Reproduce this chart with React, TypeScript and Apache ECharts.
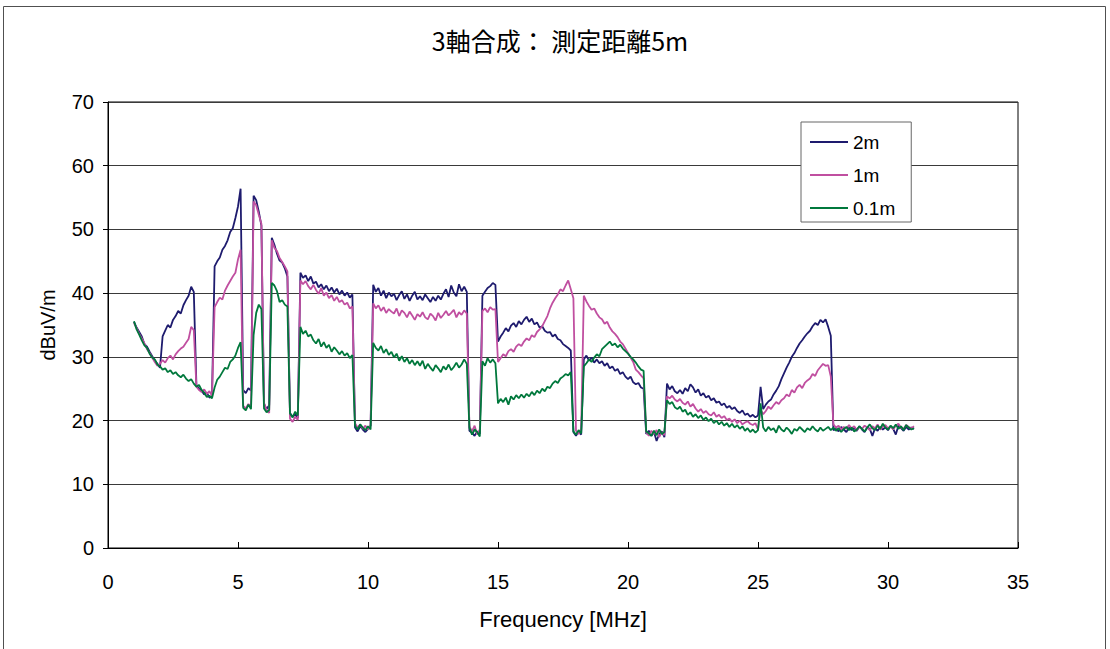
import React, { useEffect, useRef } from "react";
import * as echarts from "echarts";

const TITLE = "3軸合成： 測定距離5m";
const X_NAME = "Frequency [MHz]";
const Y_NAME = "dBuV/m";
const NAMES = ["2m", "1m", "0.1m"];
const COLORS = ["#1E1B6E", "#C04FA0", "#00783C"];

// sweep grid: 1.0 MHz start, 0.1 MHz step (301 points up to 31.0 MHz)
const F_START = 1.0;
const F_STEP = 0.1;

const s2m = [
  35.5, 34.6, 33.9, 33.2, 32.0, 31.6, 30.8, 30.1, 29.4, 28.9,
  28.3, 33.2, 34.1, 35.0, 34.6, 35.8, 36.4, 37.2, 36.8, 38.1,
  38.9, 39.6, 41.0, 40.2, 25.6, 25.0, 24.7, 24.1, 24.4, 23.6,
  23.8, 44.2, 45.0, 45.6, 46.8, 47.4, 48.3, 49.6, 50.2, 51.8,
  53.6, 56.4, 24.8, 24.3, 25.1, 24.7, 55.3, 54.6, 52.8, 50.6,
  22.6, 21.8, 22.4, 48.7, 47.6, 46.2, 45.1, 44.8, 43.9, 42.6,
  21.2, 20.6, 21.0, 20.4, 43.2, 42.4, 42.8, 41.9, 42.6, 41.5,
  41.8, 40.9, 41.4, 40.6, 41.2, 40.3, 40.9, 40.1, 40.7, 39.8,
  40.4, 39.6, 40.1, 39.3, 39.8, 18.9, 18.3, 19.1, 18.6, 18.2,
  18.7, 19.2, 41.3, 40.2, 40.8, 39.6, 40.4, 39.2, 40.1, 39.5,
  39.9, 38.9, 39.7, 40.3, 39.1, 39.8, 38.8, 39.6, 40.2, 39.0,
  39.5, 38.9, 39.8, 39.2, 38.6, 39.4, 38.8, 39.6, 39.0, 39.9,
  40.6, 39.4, 41.2, 40.1, 39.5, 41.4, 40.3, 41.0, 40.2, 18.4,
  18.1, 17.6, 18.3, 17.9, 39.6, 40.2, 40.8, 41.1, 41.6, 41.3,
  32.4, 33.2, 33.8, 34.5, 34.0, 34.9, 35.3, 34.7, 35.6, 35.1,
  35.8, 36.3, 35.5, 36.0, 35.1, 35.4, 34.6, 34.8, 34.1, 33.8,
  33.9, 33.2, 33.5, 32.8, 32.6, 32.0, 31.7, 31.4, 31.0, 18.2,
  17.6, 18.3, 17.8, 29.6, 30.2, 29.4, 29.9, 29.1, 29.6, 29.0,
  29.3, 28.6, 29.0, 28.2, 28.5, 27.8, 28.1, 27.3, 27.6, 26.9,
  26.5, 26.9, 26.0, 25.7, 25.9, 25.2, 25.0, 17.9, 18.4, 17.6,
  18.2, 16.8, 17.9, 18.3, 17.4, 25.8, 24.9, 25.4, 24.6, 24.3,
  24.8, 24.2, 25.1, 24.6, 25.7, 25.2, 24.4, 24.9, 23.9, 24.3,
  23.6, 23.9, 23.2, 23.5, 22.8, 23.0, 22.4, 22.7, 22.0, 22.3,
  21.8, 22.1, 21.5, 21.2, 21.6, 20.9, 21.1, 20.6, 20.9, 20.5,
  20.8, 25.3, 21.8, 22.5, 23.0, 23.3, 24.1, 24.7, 25.4, 26.5,
  27.4, 28.3, 29.1, 30.0, 30.6, 31.4, 32.1, 32.6, 33.2, 33.7,
  34.1, 34.8, 35.3, 35.0, 35.8, 35.4, 35.9, 34.7, 33.3, 18.5,
  18.7, 18.3, 19.0, 18.6, 18.2, 18.9, 18.5, 18.8, 18.4, 19.1,
  18.6, 18.2, 18.9, 18.7, 17.6, 18.8, 18.4, 19.0, 18.6, 18.9,
  18.5, 19.1, 18.7, 17.8, 19.2, 18.8, 18.4, 19.0, 18.6, 18.9,
  18.7,
];

const s1m = [
  35.3, 34.5, 33.6, 32.9, 32.1, 31.2, 30.6, 29.9, 29.2, 28.6,
  28.9, 29.5, 29.1, 29.8, 30.2, 29.6, 30.4, 30.9, 31.3, 31.6,
  32.2, 32.8, 34.7, 34.2, 25.3, 24.8, 24.5, 24.9, 24.2, 24.6,
  23.9, 37.8, 38.6, 39.3, 39.0, 40.4, 41.2, 41.9, 42.6, 43.2,
  45.3, 46.8, 22.3, 21.9, 22.6, 22.1, 54.4, 53.8, 52.3, 50.9,
  22.8, 21.6, 21.2, 48.3, 47.1, 46.6, 45.5, 44.9, 44.2, 43.4,
  20.3, 19.8, 20.6, 20.1, 42.0, 41.4, 41.9, 41.1, 40.6, 41.3,
  40.5, 39.9, 40.8, 39.6, 40.1, 39.2, 39.7, 38.8, 39.4, 38.6,
  38.9, 38.2, 38.5, 37.6, 37.9, 19.6, 18.9, 19.4, 18.7, 19.2,
  18.6, 19.3, 38.4, 37.6, 38.1, 37.2, 37.8, 36.9, 37.5, 37.1,
  36.8, 37.6, 36.4, 37.3, 36.9, 36.2, 37.1, 36.5, 35.8, 36.7,
  36.3, 37.0, 36.2, 35.9, 36.8, 36.4, 35.7, 36.9, 36.1, 36.6,
  37.2, 36.5, 36.9, 37.4, 36.2, 37.0, 36.6, 37.3, 36.8, 19.1,
  18.3, 19.2, 17.8, 18.6, 37.2, 37.6, 37.0, 37.8, 37.4, 37.5,
  29.2, 29.8, 30.4, 30.1, 30.9, 31.2, 30.8, 31.6, 32.0, 31.7,
  32.4, 32.9, 32.6, 33.4, 33.1, 33.9, 34.3, 34.8, 35.6, 36.4,
  37.6, 38.5, 39.2, 39.8, 40.6, 40.3, 41.2, 42.0, 40.6, 39.2,
  18.4, 17.9, 18.6, 39.6, 38.7, 38.0, 37.4, 37.6, 36.8, 36.2,
  35.9, 35.2, 35.5, 34.6, 34.0, 33.6, 33.1, 32.4, 32.0, 31.3,
  30.6, 29.9, 29.2, 28.0, 27.6, 27.1, 26.6, 18.2, 17.6, 18.4,
  17.9, 18.5, 17.4, 18.2, 17.7, 23.8, 23.5, 23.9, 23.3, 23.0,
  23.4, 22.8, 22.5, 23.0, 22.2, 22.6, 21.9, 21.4, 21.8, 21.2,
  21.5, 21.0, 20.8, 21.3, 20.6, 20.9, 20.4, 20.7, 20.1, 20.3,
  19.8, 20.2, 19.6, 20.0, 19.4, 19.7, 19.9, 19.5, 19.3, 19.6,
  18.6, 21.7, 21.0, 21.5, 22.2, 21.8, 22.4, 22.9, 22.6, 23.2,
  23.5, 24.1, 23.8, 24.8, 24.4, 25.2, 25.6, 25.1, 25.9, 26.3,
  26.6, 27.3, 27.0, 27.9, 28.4, 28.9, 28.6, 28.7, 26.9, 19.4,
  18.9, 19.2, 18.6, 19.0, 18.7, 19.3, 18.8, 19.1, 18.5, 19.0,
  18.7, 19.2, 18.9, 18.5, 19.1, 18.8, 19.4, 18.6, 19.0, 19.3,
  18.8, 19.1, 18.6, 19.2, 19.5, 18.9, 18.7, 19.3, 19.0, 18.8,
  19.1,
];

const s01m = [
  35.6, 34.3, 33.5, 32.6, 31.8, 31.4, 30.5, 29.9, 29.6, 28.8,
  28.5, 28.0, 28.2, 27.6, 27.9, 27.3, 27.6, 27.1, 26.8, 27.2,
  26.6, 26.2, 26.5, 25.8, 25.3, 25.6, 24.8, 24.4, 23.7, 23.9,
  23.5, 25.2, 26.4, 26.9, 27.6, 28.3, 28.1, 29.2, 29.6, 30.2,
  31.4, 32.3, 22.0, 21.6, 22.5, 21.8, 33.4, 36.9, 38.2, 37.5,
  21.9, 21.3, 21.7, 41.6, 41.2, 40.3, 38.6, 38.9, 38.2, 37.9,
  21.1, 20.5, 21.4, 20.8, 34.7, 33.6, 34.1, 33.2, 33.5, 32.6,
  32.1, 32.8, 31.6, 32.3, 31.4, 31.9, 30.8, 31.5, 31.0, 30.4,
  30.9, 30.2, 30.6, 29.8, 30.3, 19.2, 18.6, 19.4, 18.9, 18.5,
  19.1, 18.6, 32.2, 31.4, 31.0, 31.7, 30.6, 31.2, 30.3, 30.8,
  29.9, 30.5, 29.4, 30.1, 29.2, 29.8, 28.9, 29.5, 28.7, 29.3,
  28.6, 29.4, 28.1, 28.9, 28.3, 27.8, 28.7, 28.2, 27.6, 28.5,
  28.0, 28.8, 27.9, 28.4, 29.1, 28.3, 28.8, 29.6, 28.9, 18.9,
  17.8, 18.6, 18.2, 17.5, 29.3, 28.6, 29.8, 29.1, 29.6, 29.0,
  22.7, 23.4, 22.9, 23.6, 22.5, 23.8, 23.3, 24.0, 23.5, 24.1,
  23.6, 24.2, 23.8, 24.5, 24.0, 24.7, 24.3, 25.0, 24.6, 25.3,
  25.1, 25.8, 26.2, 25.9, 26.6, 26.9, 27.3, 27.1, 27.6, 18.3,
  17.8, 18.5, 18.0, 28.5, 29.0, 29.6, 29.2, 29.9, 30.4, 30.1,
  31.2, 31.6, 32.0, 32.4, 31.8, 32.1, 31.5, 31.9, 31.3, 30.9,
  30.5, 30.0, 29.6, 29.1, 28.5, 28.0, 27.8, 18.3, 18.0, 17.6,
  18.4, 17.7, 18.6, 17.9, 18.2, 23.2, 22.6, 22.9, 22.1, 21.8,
  22.2, 21.4, 21.7, 20.9, 21.3, 20.6, 21.0, 20.4, 20.8, 20.1,
  20.5, 19.9, 20.3, 19.6, 20.0, 19.4, 19.8, 19.2, 19.6, 19.0,
  19.5, 18.9, 19.3, 18.7, 19.1, 18.4, 18.8, 18.2, 18.6, 18.1,
  18.5, 22.7, 18.9, 18.3, 19.0, 18.5, 18.8, 18.1, 19.2, 18.6,
  18.3, 18.9, 18.5, 17.9, 18.7, 18.4, 19.0, 18.6, 18.2, 18.8,
  18.5, 19.1, 18.6, 18.3, 18.9, 18.4, 18.7, 19.0, 18.5, 18.9,
  18.4, 18.8, 18.2, 18.7, 19.0, 18.5, 18.9, 18.3, 18.6, 19.1,
  18.7, 18.3, 18.9, 19.4, 18.8, 18.5, 19.2, 18.7, 19.5, 18.9,
  18.6, 19.2, 18.8, 19.4, 18.7, 19.1, 18.5, 19.3, 18.9, 18.6,
  18.8,
];

const SERIES_VALUES = [s2m, s1m, s01m];

const toPairs = (vals: number[]) =>
  vals.map((v, i) => [Number((F_START + i * F_STEP).toFixed(1)), v]);

const LATIN = "'Liberation Sans', Arial, sans-serif";
const CJK = "'Noto Sans CJK JP', sans-serif";

export default function App() {
  const ref = useRef<HTMLDivElement>(null);

  useEffect(() => {
    if (!ref.current) return;
    const chart = echarts.init(ref.current, undefined, { renderer: "svg" });
    chart.setOption({
      animation: false,
      backgroundColor: "#ffffff",
      graphic: [
        {
          type: "rect",
          shape: { x: 3.5, y: 6.5, width: 1102, height: 700 },
          style: { fill: "none", stroke: "#505050", lineWidth: 1 },
          silent: true,
        },
        {
          type: "text",
          x: 560,
          y: 40,
          style: {
            text: TITLE,
            fill: "#000",
            font: `normal 25px ${CJK}`,
            textAlign: "center",
            textVerticalAlign: "middle",
          },
        },
      ],
      grid: {
        left: 108,
        top: 102,
        width: 910,
        height: 446,
        show: true,
        borderColor: "#000",
        borderWidth: 1,
        backgroundColor: "transparent",
      },
      legend: {
        data: NAMES,
        orient: "vertical",
        left: 801,
        top: 122,
        icon: "rect",
        itemWidth: 38,
        itemHeight: 2,
        itemGap: 13,
        padding: [10, 16, 4, 9],
        borderColor: "#666",
        borderWidth: 1,
        backgroundColor: "#fff",
        textStyle: { fontSize: 19, color: "#000", lineHeight: 20, fontFamily: LATIN },
      },
      xAxis: {
        type: "value",
        min: 0,
        max: 35,
        interval: 5,
        name: X_NAME,
        nameLocation: "middle",
        nameGap: 60,
        nameTextStyle: { fontSize: 22, color: "#000", fontFamily: LATIN },
        axisLine: { show: true, lineStyle: { color: "#000", width: 1 } },
        axisTick: { show: true, inside: true, length: 6, lineStyle: { color: "#000" } },
        axisLabel: { fontSize: 20, color: "#000", margin: 24, fontFamily: LATIN },
        splitLine: { show: false },
      },
      yAxis: {
        type: "value",
        min: 0,
        max: 70,
        interval: 10,
        name: Y_NAME,
        nameLocation: "middle",
        nameGap: 50,
        nameRotate: 90,
        nameTextStyle: { fontSize: 20, color: "#000", fontFamily: LATIN },
        axisLine: { show: true, lineStyle: { color: "#000", width: 1 } },
        axisTick: { show: true, inside: false, length: 5, lineStyle: { color: "#000" } },
        axisLabel: { fontSize: 20, color: "#000", margin: 14, fontFamily: LATIN },
        splitLine: { show: true, lineStyle: { color: "#3a3a3a", width: 1 } },
      },
      series: NAMES.map((name, k) => ({
        name,
        type: "line",
        data: toPairs(SERIES_VALUES[k]),
        showSymbol: false,
        symbol: "none",
        color: COLORS[k],
        lineStyle: { width: 1.8, color: COLORS[k] },
        z: 2 + k,
      })),
    });
    return () => chart.dispose();
  }, []);

  return (
    <div
      ref={ref}
      style={{ position: "absolute", left: 0, top: 0, width: 1110, height: 649, background: "#fff" }}
    />
  );
}
